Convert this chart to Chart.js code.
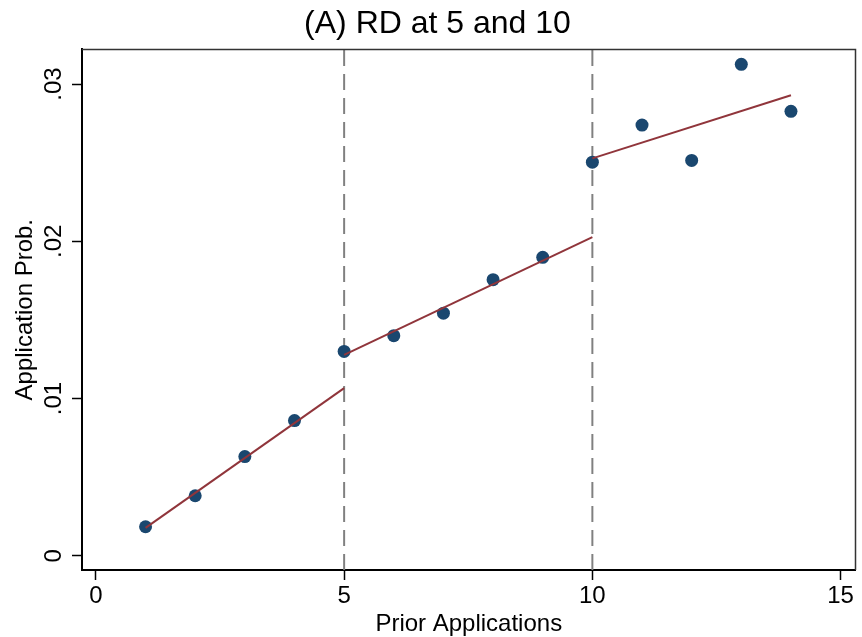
<!DOCTYPE html>
<html>
<head>
<meta charset="utf-8">
<script src="https://cdn.jsdelivr.net/npm/chart.js@4"></script>
<style>
    html, body { margin: 0; padding: 0; background: #fff; }
    #wrap { width: 862px; height: 637px; }
</style>
</head>
<body>
<div id="wrap"><canvas id="rdChart"></canvas></div>
<script>
// --- DATA ---
const priorApps = [1, 2, 3, 4, 5, 6, 7, 8, 9, 10, 11, 12, 13, 14];
const appProb = [0.00185, 0.00382, 0.00631, 0.0086, 0.0130, 0.0140, 0.01543,
                 0.01756, 0.01898, 0.02503, 0.02739, 0.02514, 0.03125, 0.02826];

// fitted segments (x from, x to) and (y from, y to)
const fitLowX = [1, 5];
const fitLowY = [0.00178, 0.01066];
const fitMidX = [5, 10];
const fitMidY = [0.01278, 0.02027];
const fitHighX = [10, 14];
const fitHighY = [0.02527, 0.02928];

const cutoffs = [5, 10];
const xTicks = [0, 5, 10, 15];
const yTicks = [0, 0.01, 0.02, 0.03];
const yTickLabels = ['0', '.01', '.02', '.03'];

const xMin = -0.28, xMax = 15.3;
const yMin = -0.0009, yMax = 0.0322;

const FONT = 'Arial, "Liberation Sans", sans-serif';
const toPts = (xs, ys) => xs.map((x, i) => ({ x, y: ys[i] }));

// --- DATASETS ---
const fitStyle = { type: 'line', borderColor: '#90353b', borderWidth: 2, pointRadius: 0, fill: false, order: 0 };

const datasets = [
    { ...fitStyle, data: toPts(fitLowX, fitLowY) },
    { ...fitStyle, data: toPts(fitMidX, fitMidY) },
    { ...fitStyle, data: toPts(fitHighX, fitHighY) },
    {
        type: 'scatter',
        data: toPts(priorApps, appProb),
        backgroundColor: '#1a476f',
        borderColor: '#1a476f',
        pointRadius: 6.5,
        borderWidth: 0,
        order: 1
    },
    ...cutoffs.map(c => ({
        type: 'line',
        data: [{ x: c, y: yMin }, { x: c, y: yMax }],
        borderColor: '#808080',
        borderWidth: 2,
        borderDash: [16, 8],
        pointRadius: 0,
        order: 2
    }))
];

// top/right frame lines (left and bottom come from the axis borders)
const framePlugin = {
    id: 'frame',
    afterDatasetsDraw(chart) {
        const { ctx, chartArea: a } = chart;
        ctx.save();
        ctx.strokeStyle = '#333';
        ctx.lineWidth = 1.5;
        ctx.beginPath();
        ctx.moveTo(a.left, a.top);
        ctx.lineTo(a.right, a.top);
        ctx.lineTo(a.right, a.bottom);
        ctx.stroke();
        ctx.restore();
    }
};

new Chart(document.getElementById('rdChart'), {
    type: 'scatter',
    data: { datasets },
    plugins: [framePlugin],
    options: {
        responsive: true,
        maintainAspectRatio: false,
        animation: false,
        layout: { padding: { left: 13, right: 0, top: 0, bottom: 1 } },
        plugins: {
            legend: { display: false },
            tooltip: { enabled: false },
            title: {
                display: true,
                text: '(A) RD at 5 and 10',
                color: '#000',
                font: { family: FONT, size: 32, weight: 'normal', lineHeight: 1.2 },
                padding: { top: 5, bottom: 6 }
            }
        },
        scales: {
            x: {
                type: 'linear',
                min: xMin,
                max: xMax,
                afterBuildTicks: s => { s.ticks = xTicks.map(v => ({ value: v })); },
                afterFit: s => { s.paddingRight = 0; },
                grid: { display: true, drawOnChartArea: false, drawTicks: true, tickLength: 10, color: '#000', tickWidth: 1.5 },
                border: { display: true, color: '#000', width: 2 },
                ticks: {
                    color: '#000', padding: 4, maxRotation: 0, autoSkip: false,
                    font: { family: FONT, size: 24, lineHeight: 1 },
                    callback: v => String(v)
                },
                title: {
                    display: true, text: 'Prior Applications', color: '#000',
                    font: { family: FONT, size: 24, lineHeight: 1 },
                    padding: { top: 0, bottom: 0 }
                }
            },
            y: {
                type: 'linear',
                min: yMin,
                max: yMax,
                afterBuildTicks: s => { s.ticks = yTicks.map(v => ({ value: v })); },
                afterFit: s => { s.width = 69; },
                grid: { display: true, drawOnChartArea: false, drawTicks: true, tickLength: 10, color: '#000', tickWidth: 1.5 },
                border: { display: true, color: '#000', width: 2 },
                ticks: {
                    color: '#000', padding: 1, minRotation: 90, maxRotation: 90,
                    crossAlign: 'center', autoSkip: false,
                    font: { family: FONT, size: 24, lineHeight: 1 },
                    callback: v => yTickLabels[yTicks.indexOf(v)] ?? ''
                },
                title: {
                    display: true, text: 'Application Prob.', color: '#000',
                    font: { family: FONT, size: 24, lineHeight: 1 },
                    padding: { top: 0, bottom: 0 }
                }
            }
        }
    }
});
</script>
</body>
</html>
